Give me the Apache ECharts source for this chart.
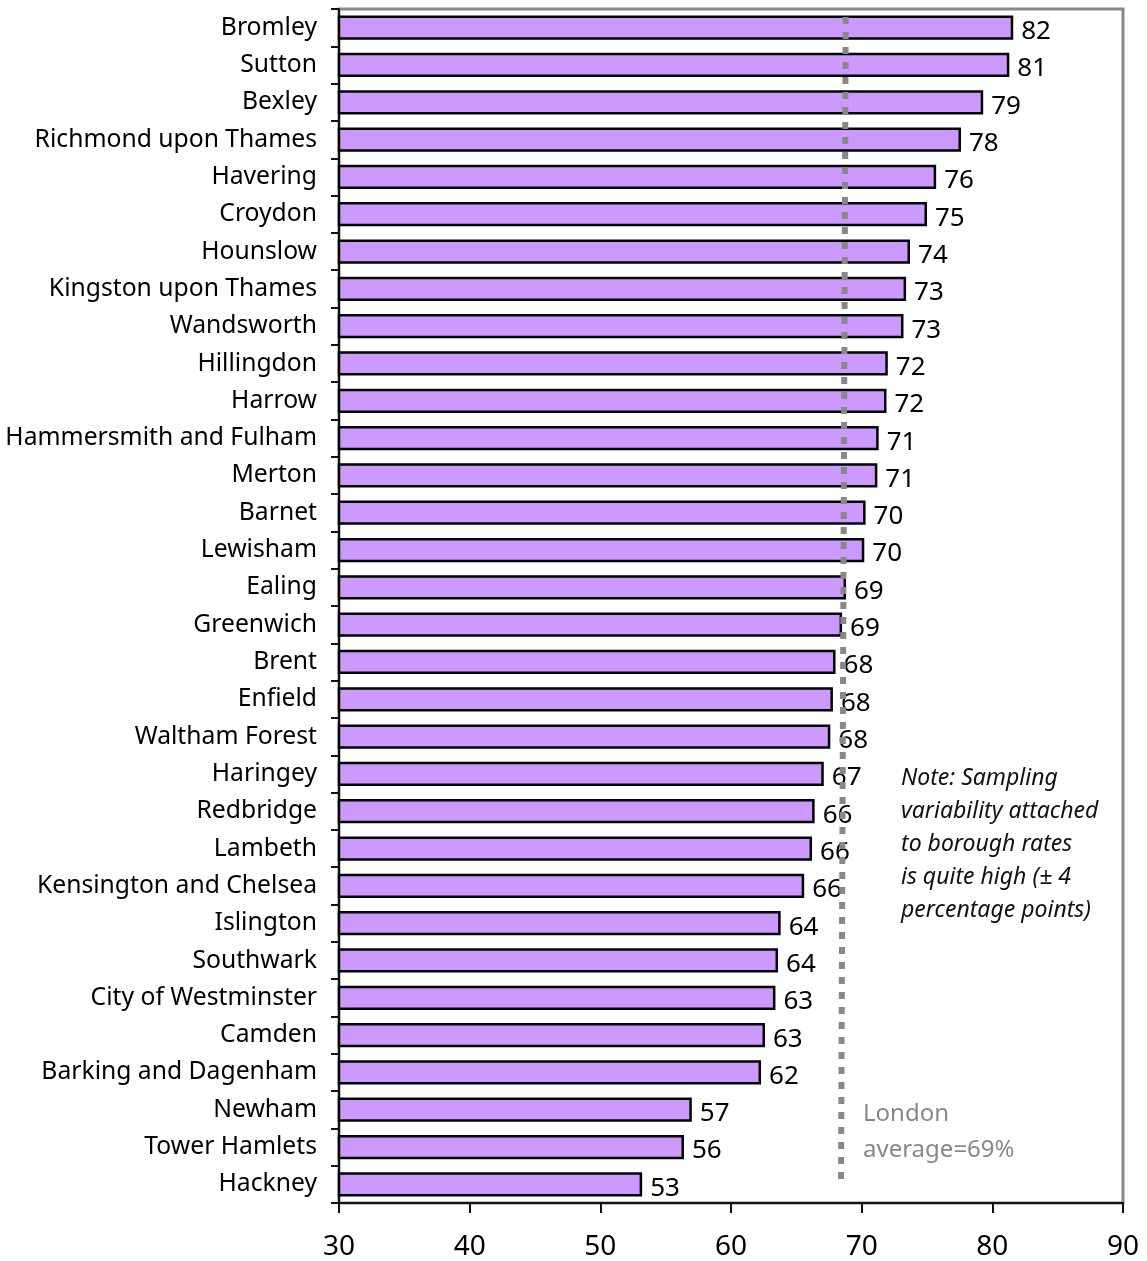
<!DOCTYPE html>
<html>
<head>
<meta charset="utf-8">
<script src="https://cdn.jsdelivr.net/npm/echarts@6/dist/echarts.min.js"></script>
<style>
html,body{margin:0;padding:0;background:#fff;}
#chart{width:1147px;height:1261px;}
</style>
</head>
<body>
<div id="chart"></div>
<script>
const boroughs = ["Bromley","Sutton","Bexley","Richmond upon Thames","Havering","Croydon","Hounslow","Kingston upon Thames","Wandsworth","Hillingdon","Harrow","Hammersmith and Fulham","Merton","Barnet","Lewisham","Ealing","Greenwich","Brent","Enfield","Waltham Forest","Haringey","Redbridge","Lambeth","Kensington and Chelsea","Islington","Southwark","City of Westminster","Camden","Barking and Dagenham","Newham","Tower Hamlets","Hackney"];
const rates = [81.6,81.3,79.3,77.6,75.7,75.0,73.7,73.4,73.2,72.0,71.9,71.3,71.2,70.3,70.2,68.8,68.5,68.0,67.8,67.6,67.1,66.4,66.2,65.6,63.8,63.6,63.4,62.6,62.3,57.0,56.4,53.2];
const rateLabels = [82,81,79,78,76,75,74,73,73,72,72,71,71,70,70,69,69,68,68,68,67,66,66,66,64,64,63,63,62,57,56,53];
const xTicks = [30,40,50,60,70,80,90];
const londonLine = [68.78, 68.42];
const noteLines = ["Note: Sampling","variability attached","to borough rates","is quite high (± 4","percentage points)"];
const avgLines = ["London","average=69%"];

const chart = echarts.init(document.getElementById('chart'), null, {renderer:'canvas'});
const FONT = '"Noto Sans", sans-serif';
chart.setOption({
  animation:false,
  backgroundColor:'#fff',
  grid:{left:339,right:24,top:9,bottom:58,show:true,borderColor:'#888',borderWidth:3,backgroundColor:'transparent'},
  xAxis:{
    type:'value',min:xTicks[0],max:xTicks[xTicks.length-1],interval:10,
    axisLine:{show:true,onZero:false,lineStyle:{color:'#111',width:2}},
    axisTick:{show:true,inside:false,length:10,lineStyle:{color:'#111',width:2}},
    splitLine:{show:false},
    axisLabel:{fontFamily:FONT,fontSize:28,color:'#000',margin:30}
  },
  yAxis:{
    type:'category',data:boroughs,inverse:true,
    axisLine:{show:true,lineStyle:{color:'#111',width:2}},
    axisTick:{show:true,length:8,alignWithLabel:false,lineStyle:{color:'#111',width:2}},
    axisLabel:{fontFamily:FONT,fontSize:24.7,color:'#000',margin:22}
  },
  graphic:[
    {type:'text',left:901,top:762,style:{text:noteLines.join('\n'),font:'italic 23px "Noto Sans"',fill:'#111',lineHeight:33}},
    {type:'text',left:863,top:1096,style:{text:avgLines.join('\n'),font:'24px "Noto Sans"',fill:'#888',lineHeight:36}}
  ],
  series:[{
    type:'bar',data:rates,barCategoryGap:'35%',
    itemStyle:{color:'#CC99FF',borderColor:'#000',borderWidth:2.5},
    label:{show:true,position:'right',distance:8,offset:[0,4],fontFamily:FONT,fontSize:26,color:'#000',
      formatter:p=>String(rateLabels[p.dataIndex])},
    markLine:{
      silent:true,symbol:['none','none'],label:{show:false},
      lineStyle:{color:'#888',width:6,type:[7,8]},
      data:[[{coord:[londonLine[0],0],y:17},{coord:[londonLine[1],boroughs.length-1],y:1186}]]
    },
    z:2
  }]
});
</script>
</body>
</html>
